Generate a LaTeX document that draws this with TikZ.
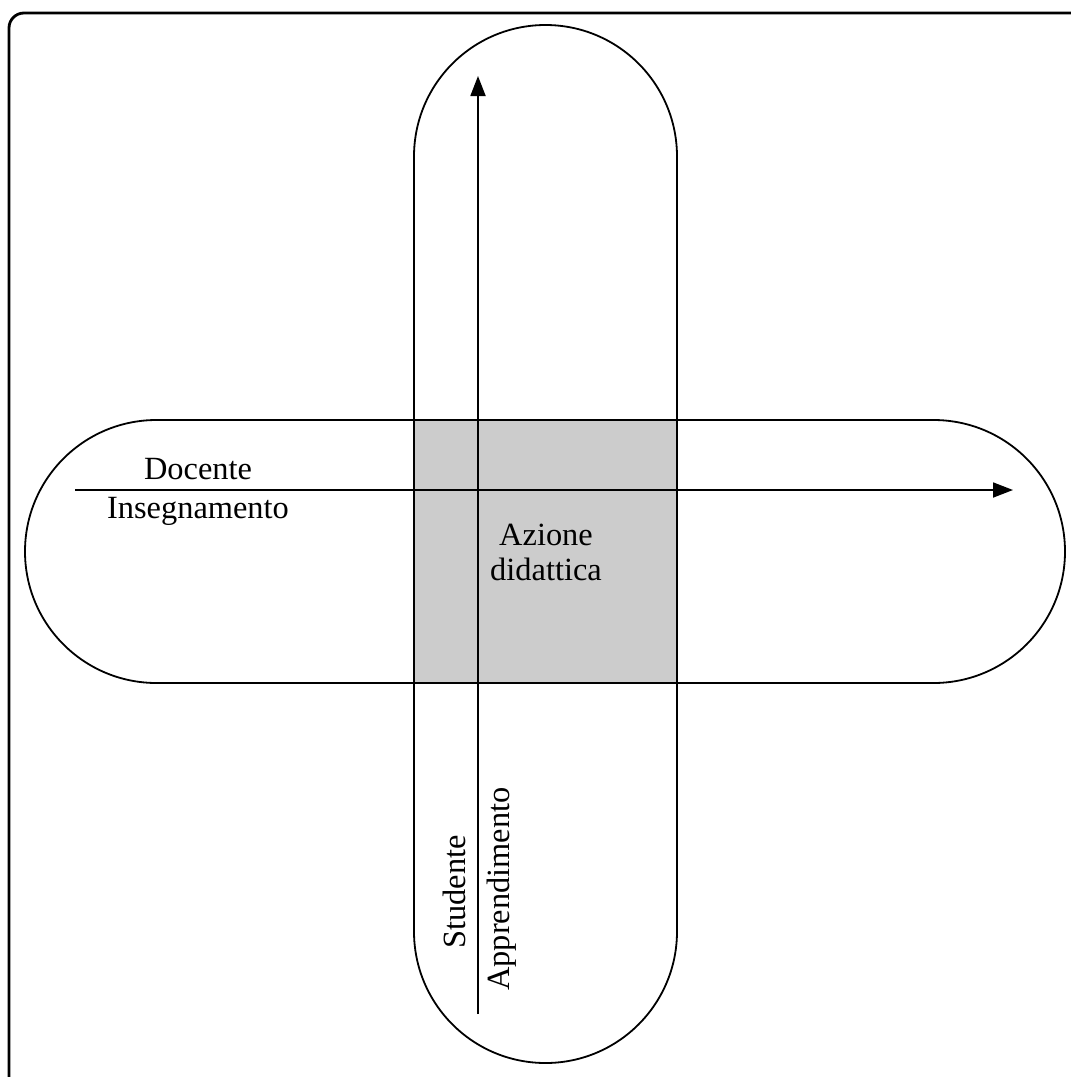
\documentclass[tikz,border=0pt]{standalone}
\usepackage{fontspec}
\setmainfont{Liberation Serif}
\usetikzlibrary{arrows.meta}
\begin{document}
\begin{tikzpicture}[x=0.5pt,y=-0.5pt,
  frame/.style={line width=1.4pt, rounded corners=7.5pt},
  band/.style={line width=0.9pt, rounded corners=65.75pt},
  axis/.style={line width=0.9pt, -{Triangle[length=10pt,width=7.5pt]}},
  label/.style={font=\fontsize{16.2pt}{17.5pt}\selectfont, inner sep=0pt, anchor=base}]
  \useasboundingbox (0,0) rectangle (1071,1077);
  \clip (0,0) rectangle (1071,1077);
  % outer frame, running past the page on the right and at the bottom
  \draw[frame] (9,13) rectangle (1100,1100);
  % shared area of the two bands
  \fill[gray!40] (414,420) rectangle (677,683);
  % vertical and horizontal bands
  \draw[band] (414,25) rectangle (677,1063);
  \draw[band] (25,420) rectangle (1065,683);
  % axes
  \coordinate (hstart) at (75,490);
  \coordinate (hend) at (1013,490);
  \coordinate (vstart) at (478,1014);
  \coordinate (vend) at (478,76);
  \draw[axis] (hstart) -- (hend);
  \draw[axis] (vstart) -- (vend);
  % labels
  \node[label] (docente) at (198,479) {Docente};
  \node[label] (insegn) at (198,518) {Insegnamento};
  \node[label] (azione) at (546,545) {Azione};
  \node[label] (didattica) at (546,580) {didattica};
  \node[label, rotate=90] (studente) at (465,892) {Studente};
  \node[label, rotate=90] (apprend) at (509,889) {Apprendimento};
\end{tikzpicture}
\end{document}
